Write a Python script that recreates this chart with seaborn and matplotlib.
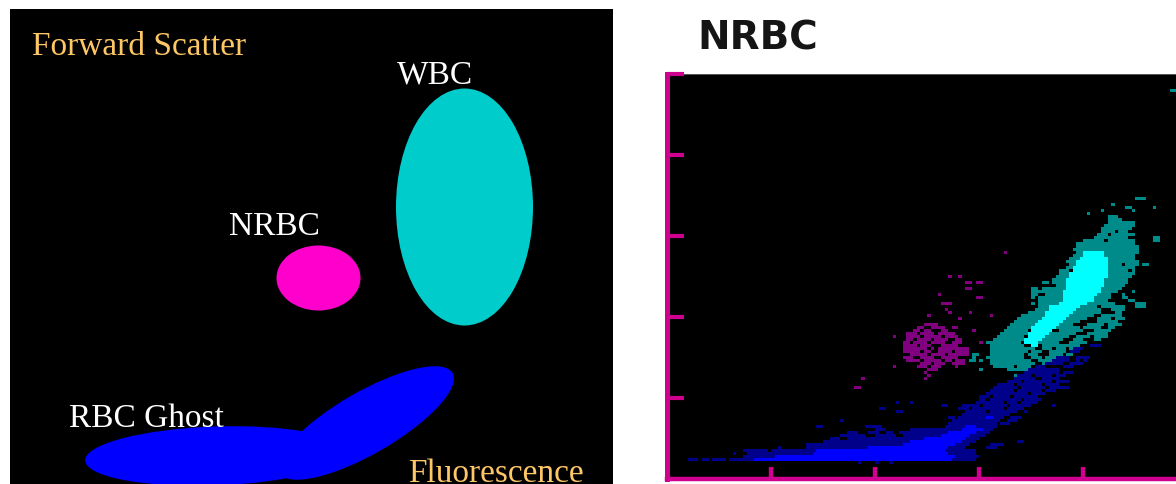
import numpy as np
import matplotlib
matplotlib.use("Agg")
import matplotlib.pyplot as plt
from matplotlib.colors import ListedColormap
from matplotlib.patches import Ellipse
import seaborn as sns

# Right panel populations: row -> occupied column spans
purple_cells = {
 75:[(97,97)],67:[(81,81),(84,84)],65:[(86,87),(89,90)],63:[(86,87)],61:[(78,78)],60:[(89,90)],58:[(79,81)],
 56:[(80,80)],55:[(81,81),(87,87)],54:[(75,75),(93,93)],53:[(84,84)],
 51:[(74,77)],50:[(72,73),(76,79),(82,83)],49:[(71,72),(74,75),(79,80),(88,88)],48:[(69,71),(73,76),(78,82)],
 47:[(65,65),(69,72),(74,78),(80,83)],46:[(69,70),(72,75),(77,80),(83,84)],45:[(68,69),(71,74),(76,79),(82,84),(90,90)],
 44:[(68,71),(73,75),(79,83)],43:[(68,74),(76,76),(78,86)],42:[(68,72),(74,75),(78,81),(83,86)],
 41:[(70,74),(76,79),(81,86)],40:[(68,70),(73,76),(79,83)],39:[(69,72),(74,78),(80,81),(83,85)],
 38:[(73,75),(77,79),(82,85)],37:[(65,65),(72,74),(76,78),(83,83)],36:[(75,77)],35:[(74,74)],34:[(75,75)],
 33:[(56,56),(74,74)],30:[(54,55)],
}
teal_cells = {
 129:[(145,146)],93:[(135,137)],91:[(128,128)],90:[(132,133),(140,140)],89:[(125,125),(134,134)],88:[(121,121)],
 87:[(127,129)],86:[(127,130)],85:[(127,134)],84:[(126,134)],83:[(125,133)],82:[(125,128),(130,132)],
 81:[(124,126),(128,134)],80:[(123,132),(140,141)],79:[(120,125),(127,134),(140,141)],78:[(118,134)],77:[(118,135)],
 76:[(117,135)],75:[(118,119),(126,135)],74:[(117,134)],73:[(116,119),(127,134)],72:[(115,118),(127,135)],
 71:[(116,117),(127,130),(132,135),(137,138)],70:[(115,117),(127,134)],69:[(113,115),(127,132),(134,134)],
 68:[(113,116),(127,134)],67:[(112,115),(127,133)],66:[(111,114),(126,132)],65:[(108,109),(111,114),(126,132)],
 64:[(112,114),(126,131)],63:[(105,106),(108,114),(125,130)],62:[(105,113),(125,129),(134,134)],
 61:[(105,106),(109,113),(124,127),(131,131)],60:[(105,105),(107,113),(123,127),(131,132)],
 59:[(107,113),(122,126),(133,134)],58:[(105,105),(107,112),(121,128),(135,137)],
 57:[(107,109),(118,123),(125,131),(135,137)],56:[(106,109),(118,124),(128,131)],55:[(104,109),(117,124),(129,130)],
 54:[(102,108),(116,122),(125,130)],53:[(101,107),(115,120),(124,127),(129,131)],52:[(100,107),(114,118),(124,129)],
 51:[(99,106),(113,116),(121,125),(127,130)],50:[(98,105),(112,118),(120,124),(127,128)],
 49:[(97,103),(113,119),(123,127)],48:[(96,103),(110,117),(121,126)],47:[(95,102),(109,115),(118,121),(123,126)],
 46:[(94,102),(108,113),(117,119),(123,124)],45:[(92,101),(107,112),(116,120)],44:[(93,102),(108,118)],
 43:[(93,105),(108,110),(112,114),(116,118)],42:[(93,103),(105,107),(110,114),(116,118)],
 41:[(88,89),(93,102),(104,106),(110,113),(115,116)],40:[(88,88),(92,102),(105,107),(109,113)],
 39:[(87,88),(90,90),(93,102),(103,104),(107,110)],38:[(93,105),(108,110)],37:[(94,99),(101,104),(106,107)],
 36:[(90,90),(98,103)],34:[(100,102)],33:[(100,101)],
}
cyan_cells = {
 75:[(120,125)],74:[(120,125)],73:[(119,126)],72:[(118,126)],71:[(118,126)],70:[(117,126)],69:[(117,126)],
 68:[(116,126)],67:[(116,126)],66:[(115,125)],65:[(115,125)],64:[(115,125)],63:[(115,124)],62:[(114,124)],
 61:[(114,123)],60:[(114,122)],59:[(114,122)],58:[(113,120)],57:[(110,118)],56:[(110,117)],55:[(109,116)],
 54:[(109,115)],53:[(108,114)],52:[(107,113)],51:[(106,112)],50:[(105,111)],49:[(105,110)],48:[(104,109)],
 47:[(104,108)],46:[(103,107)],45:[(103,106)],44:[(105,106)],
}
navy_cells = {
 44:[(122,124)],43:[(117,119)],42:[(116,118)],40:[(112,115),(118,121)],39:[(111,115),(118,118),(120,120)],
 38:[(109,113),(116,119)],37:[(106,108),(114,116)],36:[(104,112)],35:[(103,112),(114,116)],
 34:[(101,104),(106,110),(112,114)],33:[(100,105),(108,112)],32:[(98,101),(103,110),(112,115)],
 31:[(95,99),(101,107),(109,112)],30:[(94,100),(102,108),(110,115)],29:[(93,99),(101,107),(109,111)],
 28:[(92,103),(105,108)],27:[(90,92),(94,98),(100,106)],26:[(90,91),(93,101),(103,107)],
 25:[(66,66),(70,70),(89,96),(98,100),(102,106)],24:[(79,80),(85,89),(91,97),(99,104),(111,111)],
 23:[(61,62),(84,86),(88,96),(98,102)],22:[(66,67),(86,91),(93,100),(103,103)],21:[(85,98)],
 20:[(81,82),(84,96),(99,101)],19:[(50,50),(82,95),(98,100)],18:[(81,94),(96,98)],
 17:[(43,44),(57,61),(80,86),(89,94)],16:[(60,62),(70,85),(90,93)],15:[(52,54),(58,60),(63,64),(67,81),(88,92)],
 14:[(50,56),(60,65),(68,79),(86,91)],13:[(47,49),(52,78),(85,89)],12:[(45,70),(84,88),(101,102)],
 11:[(40,68),(82,86),(93,96)],10:[(32,32),(40,58),(80,85),(92,94)],9:[(22,28),(30,42),(80,88)],
 8:[(19,19),(23,41),(80,88)],7:[(22,30),(80,89)],6:[(6,8),(10,11),(13,16),(18,24),(82,88)],5:[(55,55),(60,60),(64,64)],
}
blue_cells = {
 20:[(92,93)],17:[(86,88)],16:[(85,90)],15:[(81,88)],14:[(79,86)],13:[(74,85)],12:[(70,84)],11:[(68,82)],
 10:[(58,80)],9:[(43,79)],8:[(42,80)],7:[(31,82)],6:[(25,81)],
}

# Left panel: cloud names and their colours
cloud_names = ["WBC", "NRBC", "RBC Ghost", "RBC Ghost tail"]
cloud_colors = ["#00cccc", "#ff00cc", "#0000ff", "#0000ff"]
axis_names = ["Forward Scatter", "Fluorescence"]
title_text = "NRBC"
x_tick_channels = [30, 60, 90, 120]
y_tick_channels = [27, 54, 81, 108, 135]

sns.set_theme(style="white")
plt.rcParams["font.family"] = ["Liberation Serif", "DejaVu Serif"]

W, H = 1176, 485
fig = plt.figure(figsize=(W / 100, H / 100), dpi=100, facecolor="white")

# ---- schematic ----
ax = fig.add_axes([10 / W, 0, (613 - 10) / W, (485 - 10) / H])
ax.set_facecolor("black")
ax.set_xlim(10, 613)
ax.set_ylim(485, 10)
ax.set_xticks([]); ax.set_yticks([])
for s in ax.spines.values():
    s.set_visible(False)
ax.add_patch(Ellipse((464.5, 208), 137, 237, color=cloud_colors[0], lw=0))
ax.add_patch(Ellipse((318.5, 279), 84, 65, color=cloud_colors[1], lw=0))
ax.add_patch(Ellipse((215, 457), 260, 59, angle=-2, color=cloud_colors[2], lw=0))
ax.add_patch(Ellipse((366, 424), 200, 62, angle=-30, color=cloud_colors[3], lw=0))
gold = "#fdc765"
ax.text(32, 55, axis_names[0], color=gold, fontsize=24, va="baseline")
ax.text(408, 482, axis_names[1], color=gold, fontsize=24, va="baseline")
ax.text(397, 84, cloud_names[0], color="white", fontsize=24, va="baseline")
ax.text(229, 235, cloud_names[1], color="white", fontsize=24, va="baseline")
ax.text(69, 427, cloud_names[2], color="white", fontsize=24, va="baseline")

# ---- measured scattergram ----
grid = np.zeros((135, 147))
for level, cells in enumerate([purple_cells, teal_cells, navy_cells, blue_cells, cyan_cells], start=1):
    for row, spans in cells.items():
        for a, b in spans:
            grid[row, a:b + 1] = level
bx = fig.add_axes([667 / W, (H - 480) / H, (W - 667) / W, 405 / H])
cmap = ListedColormap(["#000000", "#800080", "#008b8b", "#00008b", "#0000ff", "#00ffff"])
sns.heatmap(grid, ax=bx, cmap=cmap, vmin=-0.5, vmax=5.5, cbar=False,
            xticklabels=False, yticklabels=False)
bx.set_axisbelow(False)
bx.set_xlim(0, 146.7)
bx.set_ylim(0, 135)
bx.set_xticks(x_tick_channels)
bx.set_yticks(y_tick_channels)
bx.set_xticklabels([]); bx.set_yticklabels([])
mag = "#cf0090"
bx.tick_params(axis="x", direction="in", length=8.6, width=3.2, color=mag, bottom=True)
bx.tick_params(axis="y", direction="in", length=12, width=3, color=mag, left=True)
for side, lw, col, vis in [("left", 3.6, mag, True), ("bottom", 3.2, mag, True), ("top", 0.7, "#555555", True), ("right", 0, mag, False)]:
    bx.spines[side].set_visible(vis)
    bx.spines[side].set_linewidth(lw)
    bx.spines[side].set_color(col)
fig.text(697 / W, 1 - 49 / H, title_text, color="#151515", fontsize=28, fontweight="bold",
         family=["DejaVu Sans"], va="baseline")

fig.savefig("out.png", dpi=100, facecolor="white")
